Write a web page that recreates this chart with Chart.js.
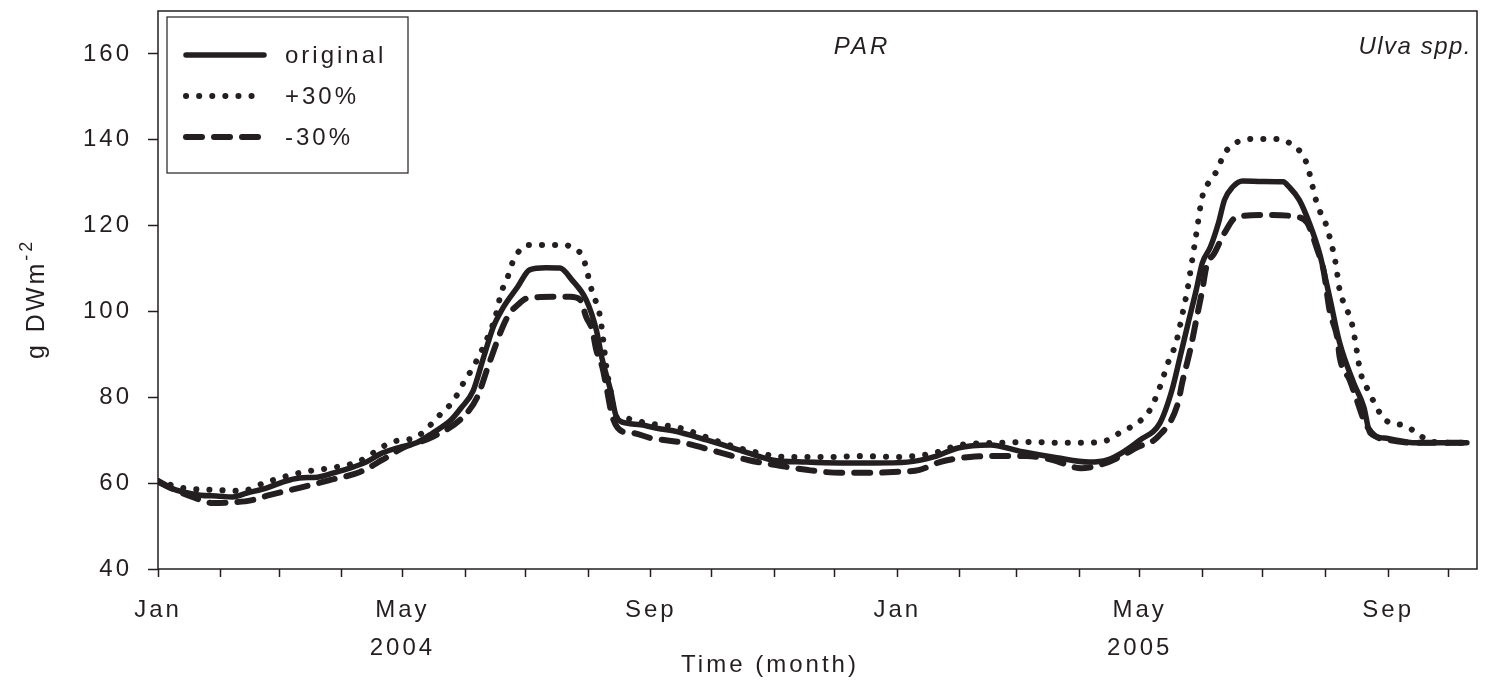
<!DOCTYPE html>
<html>
<head>
<meta charset="utf-8">
<script src="https://cdn.jsdelivr.net/npm/chart.js@4.4.1/dist/chart.umd.min.js"></script>
<style>
html, body { margin: 0; padding: 0; background: #fff; }
#wrap { width: 1491px; height: 685px; }
</style>
</head>
<body>
<div id="wrap"><canvas id="myChart" width="1491" height="685"></canvas></div>
<script>
// dias contados a partir de 1 Jan 2004
const diasOriginal = [0, 6, 12, 21, 29, 37, 44, 54, 62, 70, 79, 87, 95, 103, 111, 120, 128, 136, 145, 150, 156, 161, 166, 171, 178, 184, 192, 199, 205, 212, 217, 220, 224, 227, 232, 239, 249, 255, 272, 288, 304, 321, 338, 354, 371, 384, 396, 412, 428, 445, 461, 470, 478, 486, 496, 502, 506, 510, 514, 517, 521, 525, 528, 532, 537, 547, 557, 560, 565, 570, 575, 580, 585, 592, 597, 600, 607, 623, 648];
const valoresOriginal = [60.3, 58.9, 58.0, 57.2, 57.0, 56.8, 57.7, 58.9, 60.3, 61.2, 61.4, 62.4, 63.5, 64.9, 67.0, 68.4, 69.4, 71.7, 74.7, 77.5, 81.5, 89.0, 96.4, 101.0, 105.7, 109.7, 110.2, 110.1, 107.3, 102.7, 95.7, 88.7, 81.7, 75.4, 74.0, 73.6, 72.6, 72.2, 70.0, 67.7, 65.4, 64.9, 64.7, 64.7, 64.9, 66.1, 68.2, 68.9, 67.3, 65.9, 64.9, 65.4, 67.3, 70.0, 74.0, 81.7, 89.4, 97.3, 105.0, 111.3, 115.0, 120.6, 126.0, 129.0, 130.4, 130.3, 130.2, 129.0, 126.0, 120.6, 113.6, 103.4, 92.7, 83.3, 77.7, 71.7, 70.5, 69.4, 69.4];

const diasMais30 = [0, 12, 29, 41, 54, 72, 85, 99, 116, 128, 141, 146, 152, 156, 162, 167, 170, 173, 175, 178, 183, 196, 202, 206, 210, 212, 215, 217, 219, 220, 222, 224, 227, 231, 242, 258, 278, 295, 311, 331, 348, 366, 384, 397, 417, 433, 447, 458, 470, 476, 481, 491, 496, 500, 504, 507, 510, 512, 514, 517, 521, 525, 527, 532, 542, 555, 560, 564, 568, 570, 573, 575, 578, 580, 583, 585, 587, 591, 594, 595, 599, 602, 605, 610, 616, 621, 631, 648];
const valoresMais30 = [60.5, 58.9, 58.4, 58.2, 60.3, 62.6, 63.5, 65.0, 69.6, 70.8, 76.6, 79.0, 84.0, 87.0, 92.7, 98.7, 104.5, 107.8, 110.8, 113.6, 115.5, 115.5, 115.5, 114.3, 113.2, 110.1, 104.5, 102.0, 98.5, 95.0, 87.0, 81.7, 75.4, 75.1, 74.0, 72.9, 69.6, 67.3, 66.1, 66.1, 66.3, 66.1, 67.0, 68.9, 69.4, 69.6, 69.4, 69.4, 70.0, 71.7, 72.9, 77.0, 82.4, 88.0, 92.7, 99.0, 106.0, 112.0, 118.0, 126.7, 130.6, 133.4, 136.0, 138.8, 140.2, 140.2, 139.3, 138.0, 135.3, 132.3, 126.4, 123.6, 120.6, 117.4, 111.3, 105.0, 102.0, 97.3, 89.4, 86.4, 81.7, 78.9, 76.3, 74.0, 73.6, 72.4, 69.6, 69.4];

const diasMenos30 = [0, 8, 17, 27, 39, 46, 55, 70, 85, 100, 111, 121, 136, 151, 158, 164, 171, 174, 178, 183, 196, 204, 209, 212, 215, 217, 220, 222, 225, 230, 235, 244, 260, 277, 292, 306, 321, 338, 351, 364, 377, 387, 402, 415, 430, 443, 457, 466, 476, 485, 495, 505, 507, 511, 514, 517, 519, 523, 528, 534, 549, 564, 569, 574, 577, 580, 584, 585, 590, 594, 597, 602, 610, 623, 648];
const valoresMenos30 = [60.5, 58.5, 56.8, 55.4, 55.6, 56.0, 57.2, 58.9, 60.7, 62.6, 65.4, 68.2, 70.8, 75.4, 80.0, 88.0, 96.8, 99.5, 101.5, 103.1, 103.4, 103.4, 102.7, 98.7, 95.7, 91.0, 87.0, 82.4, 75.4, 72.0, 71.7, 70.5, 69.4, 67.3, 65.4, 64.2, 63.1, 62.4, 62.4, 62.6, 63.1, 64.9, 66.1, 66.3, 66.3, 65.4, 63.5, 64.2, 66.1, 68.4, 70.8, 78.7, 83.3, 91.0, 98.0, 105.0, 110.4, 113.6, 118.3, 122.0, 122.5, 122.0, 120.6, 114.3, 109.7, 100.3, 93.4, 89.4, 84.0, 78.7, 74.7, 71.2, 70.0, 69.4, 69.4];

// inicio de cada mes (dias desde 1 Jan 2004)
const mesesDias = [0, 31, 60, 91, 121, 152, 182, 213, 244, 274, 305, 335, 366, 397, 425, 456, 486, 517, 547, 578, 609, 639];
const mesesRotulos = ['Jan', '', '', '', ['May', '2004'], '', '', '', 'Sep', '', '', '', 'Jan', '', '', '', ['May', '2005'], '', '', '', 'Sep', ''];
const yTicks = [40, 60, 80, 100, 120, 140, 160];

const cor = '#231f20';
const fonte = 'Arial, "Liberation Sans", sans-serif';

function pares(xs, ys) {
    return xs.map((x, i) => ({ x: x, y: ys[i] }));
}

// moldura, legenda e textos extras
const moldura = {
    id: 'moldura',
    beforeDraw(chart) {
        chart.ctx.letterSpacing = '3px';
    },
    afterDraw(chart) {
        const ctx = chart.ctx;
        const a = chart.chartArea;
        ctx.save();
        ctx.letterSpacing = '3px';
        ctx.strokeStyle = cor;
        ctx.lineWidth = 1.5;
        ctx.setLineDash([]);
        ctx.strokeRect(a.left, a.top, a.right - a.left, a.bottom - a.top);

        // legenda
        ctx.lineWidth = 1.2;
        ctx.strokeRect(167, 17, 241, 156);
        const linhasY = [55, 96, 137];
        chart.data.datasets.forEach((ds, i) => {
            ctx.beginPath();
            ctx.lineWidth = ds.borderWidth;
            ctx.lineCap = 'round';
            ctx.setLineDash(ds.borderDash || []);
            ctx.moveTo(186, linhasY[i]);
            ctx.lineTo(264, linhasY[i]);
            ctx.stroke();
            ctx.setLineDash([]);
            ctx.fillStyle = cor;
            ctx.font = '24px ' + fonte;
            ctx.textAlign = 'left';
            ctx.textBaseline = 'middle';
            ctx.fillText(ds.label, 285, linhasY[i] + 1);
        });

        // titulos
        ctx.fillStyle = cor;
        ctx.font = 'italic 24px ' + fonte;
        ctx.textBaseline = 'alphabetic';
        ctx.textAlign = 'center';
        ctx.fillText('PAR', 862, 54);
        ctx.letterSpacing = '1.5px';
        ctx.textAlign = 'right';
        ctx.fillText('Ulva spp.', 1472, 54);
        ctx.letterSpacing = '3px';

        ctx.font = '24px ' + fonte;
        ctx.textAlign = 'center';
        ctx.fillText('Time (month)', 770, 672);

        // eixo y com sobrescrito
        ctx.translate(44, 359);
        ctx.rotate(-Math.PI / 2);
        ctx.textAlign = 'left';
        ctx.font = '25px ' + fonte;
        ctx.fillText('g DWm', 0, 0);
        const w = ctx.measureText('g DWm').width;
        ctx.font = '18px ' + fonte;
        ctx.fillText('-2', w, -12);
        ctx.restore();
    }
};

const ctx = document.getElementById('myChart');

new Chart(ctx, {
    type: 'line',
    data: {
        datasets: [{
            label: 'original',
            data: pares(diasOriginal, valoresOriginal),
            borderColor: cor,
            borderWidth: 5.5,
            borderCapStyle: 'round',
            borderJoinStyle: 'round',
            pointRadius: 0,
            cubicInterpolationMode: 'monotone'
        }, {
            label: '+30%',
            data: pares(diasMais30, valoresMais30),
            borderColor: cor,
            borderWidth: 6,
            borderDash: [0.1, 13],
            borderCapStyle: 'round',
            pointRadius: 0,
            cubicInterpolationMode: 'monotone'
        }, {
            label: '-30%',
            data: pares(diasMenos30, valoresMenos30),
            borderColor: cor,
            borderWidth: 6,
            borderDash: [16, 12],
            borderCapStyle: 'round',
            pointRadius: 0,
            cubicInterpolationMode: 'monotone'
        }]
    },
    options: {
        responsive: false,
        animation: false,
        layout: { padding: { left: 0, right: 14, top: 11, bottom: 0 } },
        plugins: {
            legend: { display: false },
            tooltip: { enabled: false }
        },
        scales: {
            x: {
                type: 'linear',
                min: 0,
                max: 653,
                afterBuildTicks: s => { s.ticks = mesesDias.map(v => ({ value: v })); },
                afterFit: s => { s.height = 116; s.paddingLeft = 0; s.paddingRight = 0; },
                border: { display: false },
                grid: { drawOnChartArea: false, tickLength: 8, tickWidth: 1.5, tickColor: cor },
                ticks: {
                    autoSkip: false,
                    maxRotation: 0,
                    padding: 14,
                    color: cor,
                    font: { family: fonte, size: 24, lineHeight: 1.58 },
                    callback: (v, i) => mesesRotulos[i]
                }
            },
            y: {
                min: 40,
                max: 170,
                afterBuildTicks: s => { s.ticks = yTicks.map(v => ({ value: v })); },
                afterFit: s => { s.width = 158; s.paddingTop = 0; s.paddingBottom = 0; },
                border: { display: false },
                grid: { drawOnChartArea: false, tickLength: 10, tickWidth: 1.5, tickColor: cor },
                ticks: {
                    padding: 16,
                    color: cor,
                    font: { family: fonte, size: 24 }
                }
            }
        }
    },
    plugins: [moldura]
});
</script>
</body>
</html>
